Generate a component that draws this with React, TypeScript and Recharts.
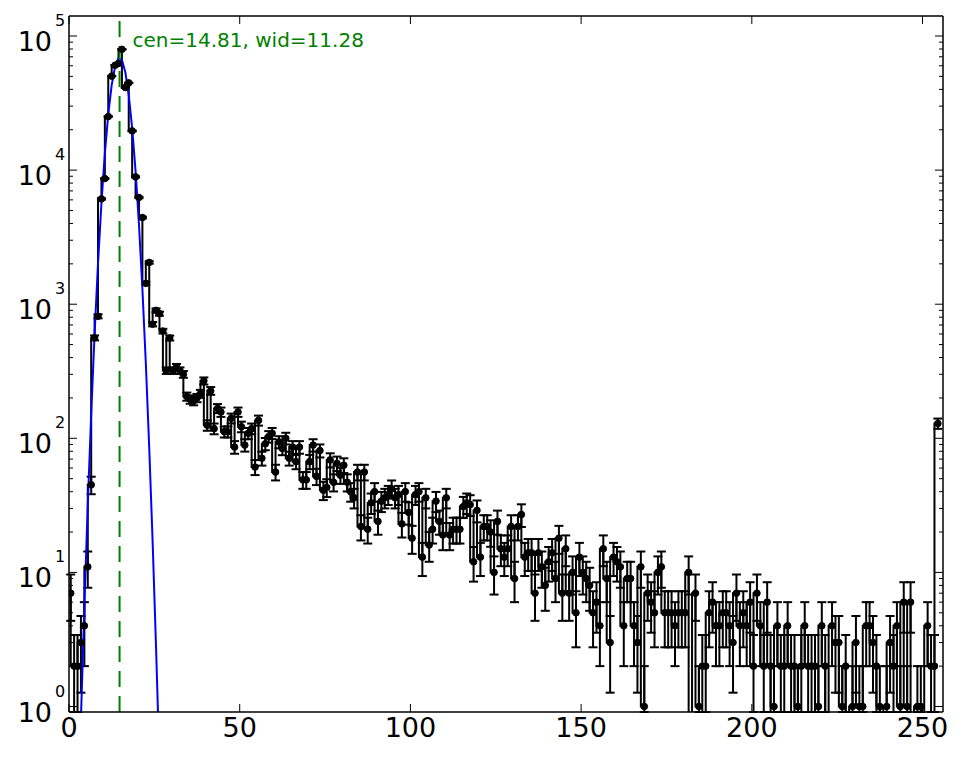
import { ComposedChart, Line, ErrorBar, XAxis, YAxis, ReferenceLine } from "recharts";

// counts per bin (bins 0..254)
const counts = [
  7, 2, 2, 3, 4, 11, 45, 561, 813, 6100,
  8650, 25100, 50200, 60500, 62400, 79500, 41300, 44700, 19600, 8900,
  6250, 4430, 1430, 2050, 710, 900, 850, 630, 320, 560,
  320, 340, 320, 300, 205, 195, 190, 200, 215, 268,
  125, 226, 118, 167, 157, 112, 112, 141, 86, 157,
  122, 89, 109, 118, 61, 136, 71, 91, 103, 109,
  56, 94, 84, 100, 71, 86, 67, 86, 49, 49,
  67, 89, 52, 81, 41, 43, 69, 47, 65, 53,
  63, 47, 40, 36, 56, 22, 56, 21, 33, 40,
  24, 34, 36, 38, 42, 36, 38, 23, 40, 28,
  18, 38, 40, 13, 36, 16, 21, 34, 24, 19,
  36, 19, 21, 21, 21, 31, 33, 32, 12, 29,
  13, 22, 22, 20, 10, 24, 15, 13, 15, 22,
  9, 22, 27, 13, 14, 14, 7, 14, 11, 8,
  12, 14, 9, 18, 7, 15, 7, 10, 5, 13,
  10, 9, 8, 5, 6, 4, 15, 9, 3, 13,
  12, 11, 4, 9, 9, 4, 3, 11, 1, 7,
  6, 5, 10, 11, 5, 5, 5, 4, 5, 5,
  5, 10, 0, 7, 1, 2, 2, 5, 6, 4,
  4, 5, 5, 4, 3, 7, 4, 5, 4, 6,
  2, 7, 4, 2, 6, 2, 1, 4, 2, 2,
  4, 2, 2, 1, 2, 4, 2, 2, 2, 1,
  4, 2, 0, 4, 3, 3, 1, 2, 0, 1,
  3, 1, 1, 4, 4, 3, 2, 1, 0, 1,
  3, 2, 4, 1, 6, 1, 6, 0, 1, 1,
  0, 4, 2, 2, 129,
];

// gaussian fit curve, bins 2..26
const fitStart = 2;
const fitValues = [
  0.1, 0.82, 5.6, 32, 151, 605, 2020, 5660, 13300, 26100,
  43000, 59300, 68400, 66200, 53600, 36300, 20600, 9820, 3910, 1300,
  364, 85, 16.8, 2.75, 0.38,
];

const fitCenter = 14.81;
const fitLabel = "cen=14.81, wid=11.28";

const xTicks = [0, 50, 100, 150, 200, 250];
const mantissas = [1, 2, 3, 4, 5, 6, 7, 8, 9];
const decades = [1, 10, 100, 1000, 10000];
const yTicks = [...decades.flatMap(d => mantissas.map(m => m * d)), 100000];

const FONT = "DejaVu Sans";
const Y_MIN = 0.91;
const Y_MAX = 141000;
const ZERO = 0.3;

const data = counts.map((c, i) => {
  const v = c > 0 ? c : ZERO;
  const e = c > 0 ? Math.sqrt(c) : 0;
  // error bars are not clipped by the chart, so stop them at the bottom of the axes
  const lo = c > 0 ? v - Math.max(v - e, Y_MIN) : 0;
  const fi = i - fitStart;
  return {
    x: i + 0.5,
    count: v,
    err: [lo, e],
    fit: fi >= 0 && fi < fitValues.length ? fitValues[fi] : undefined,
  };
});

const isMajor = (v: number) => Math.abs(Math.log10(v) - Math.round(Math.log10(v))) < 1e-9;

function LeftTick(props: any) {
  const { x, y, payload } = props;
  const v = payload.value;
  if (!isMajor(v)) {
    return <line x1={x} y1={y} x2={x + 4} y2={y} stroke="black" strokeWidth={1} />;
  }
  const ex = Math.round(Math.log10(v));
  return (
    <g>
      <line x1={x} y1={y} x2={x + 8} y2={y} stroke="black" strokeWidth={1} />
      <text x={x - 17} y={y + 15} textAnchor="end" fontSize={27} fontFamily={FONT} fill="black">10</text>
      <text x={x - 14} y={y - 10} textAnchor="start" fontSize={16} fontFamily={FONT} fill="black">{ex}</text>
    </g>
  );
}

function RightTick(props: any) {
  const { x, y, payload } = props;
  const len = isMajor(payload.value) ? 8 : 4;
  return <line x1={x - len} y1={y} x2={x} y2={y} stroke="black" strokeWidth={1} />;
}

function BottomTick(props: any) {
  const { x, y, payload } = props;
  return (
    <g>
      <line x1={x} y1={y} x2={x} y2={y - 8} stroke="black" strokeWidth={1} />
      <text x={x} y={y + 25} textAnchor="middle" fontSize={27} fontFamily={FONT} fill="black">{payload.value}</text>
    </g>
  );
}

function TopTick(props: any) {
  const { x, y } = props;
  return <line x1={x} y1={y} x2={x} y2={y + 8} stroke="black" strokeWidth={1} />;
}

function FitLabel(props: any) {
  const vb = props.viewBox;
  return (
    <text x={vb.x + 13} y={vb.y + 31} fontSize={20} fontFamily={FONT} fill="#008000">{fitLabel}</text>
  );
}

export default function App() {
  const axisLine = { stroke: "black", strokeWidth: 1.5 };
  return (
    <div style={{ position: "absolute", left: 0, top: 0, background: "white" }}>
      <ComposedChart width={965} height={757} data={data} margin={{ top: 0, right: 0, bottom: 0, left: 0 }}>
        <XAxis xAxisId="b" dataKey="x" type="number" domain={[0, 256]} allowDataOverflow ticks={xTicks}
          height={45} tickSize={0} tickMargin={0} tickLine={false} axisLine={axisLine} tick={<BottomTick />} interval={0} />
        <XAxis xAxisId="t" orientation="top" dataKey="x" type="number" domain={[0, 256]} allowDataOverflow ticks={xTicks}
          height={16} tickSize={0} tickMargin={0} tickLine={false} axisLine={axisLine} tick={<TopTick />} interval={0} />
        <YAxis yAxisId="l" scale="log" type="number" domain={[Y_MIN, Y_MAX]} allowDataOverflow ticks={yTicks}
          width={69} tickSize={0} tickMargin={0} tickLine={false} axisLine={axisLine} tick={<LeftTick />} interval={0} />
        <YAxis yAxisId="r" orientation="right" scale="log" type="number" domain={[Y_MIN, Y_MAX]} allowDataOverflow ticks={yTicks}
          width={22} tickSize={0} tickMargin={0} tickLine={false} axisLine={axisLine} tick={<RightTick />} interval={0} />
        <Line xAxisId="b" yAxisId="l" dataKey="count" type="stepBefore" stroke="black" strokeWidth={2}
          dot={{ r: 3.3, fill: "black", stroke: "black", strokeWidth: 1 }} isAnimationActive={false}>
          <ErrorBar dataKey="err" direction="y" width={4.5} stroke="black" strokeWidth={2} isAnimationActive={false} />
        </Line>
        <Line xAxisId="b" yAxisId="l" dataKey="fit" type="linear" stroke="#0000ff" strokeWidth={2}
          dot={false} connectNulls={false} isAnimationActive={false} />
        <ReferenceLine xAxisId="b" yAxisId="l" x={fitCenter} stroke="#008000" strokeWidth={2}
          strokeDasharray="16 9" label={<FitLabel />} />
      </ComposedChart>
    </div>
  );
}
